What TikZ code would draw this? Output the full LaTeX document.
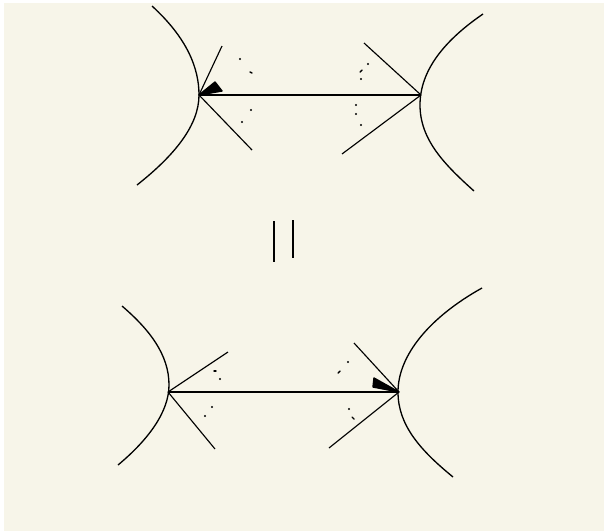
\documentclass[tikz,border=0pt]{standalone}
\definecolor{paper}{HTML}{F7F5E9}
\tikzset{
    curve/.style={line width=0.75pt},
    leg/.style={line width=0.65pt},
    speck/.style={line width=0.8pt, line cap=round},
    head/.style={fill=black, draw=black, line width=0.8pt, line join=round},
}
\begin{document}
\begin{tikzpicture}[x=0.02cm, y=-0.02cm]
    \useasboundingbox (0,0) rectangle (604,531);
    \fill[paper] (4,3) rectangle (604,531);

    % Upper diagram
    \coordinate (upperL) at (199,95);
    \coordinate (upperR) at (421,95);
    \draw[curve] (152,6) .. controls (187,38) and (199,68) .. (199,95) .. controls (199,125) and (175,155) .. (137,185);
    \draw[curve] (483,14) .. controls (445,40) and (420,70) .. (420,105) .. controls (420,140) and (445,165) .. (474,191);
    \draw[leg] (upperL) -- (upperR);
    \draw[leg] (upperL) -- (222,46);
    \draw[leg] (upperL) -- (252,150);
    \draw[leg] (upperR) -- (364,43);
    \draw[leg] (upperR) -- (342,154);
    \draw[head] (upperL) -- (215,82) -- (222,91) -- cycle;
    \foreach \x/\y in {240/59, 251/110, 242/122, 368/64, 361/79, 356/105, 356/114, 361/125} {
        \fill (\x,\y) circle (0.7pt);
    }
    \draw[speck] (250,72) -- (252,73);
    \draw[speck] (360,72) -- (362,70);

    % Equals sign
    \draw[leg] (274,221) -- (274,262);
    \draw[leg] (293,220) -- (293,258);

    % Lower diagram
    \coordinate (lowerL) at (168,392);
    \coordinate (lowerR) at (399,392);
    \draw[curve] (122,306) .. controls (150,330) and (169,355) .. (169,385) .. controls (169,412) and (148,440) .. (118,465);
    \draw[curve] (482,288) .. controls (430,317) and (398,355) .. (398,392) .. controls (398,425) and (420,450) .. (453,477);
    \draw[leg] (lowerL) -- (lowerR);
    \draw[leg] (lowerL) -- (228,352);
    \draw[leg] (lowerL) -- (215,449);
    \draw[leg] (lowerR) -- (354,343);
    \draw[leg] (lowerR) -- (329,448);
    \draw[head] (lowerR) -- (374,378) -- (373,387) -- cycle;
    \foreach \x/\y in {220/379, 212/407, 205/416, 348/362, 349/409} {
        \fill (\x,\y) circle (0.7pt);
    }
    \draw[speck] (214,371) -- (216,371);
    \draw[speck] (338,373) -- (340,371);
    \draw[speck] (352,417) -- (354,419);
\end{tikzpicture}
\end{document}
